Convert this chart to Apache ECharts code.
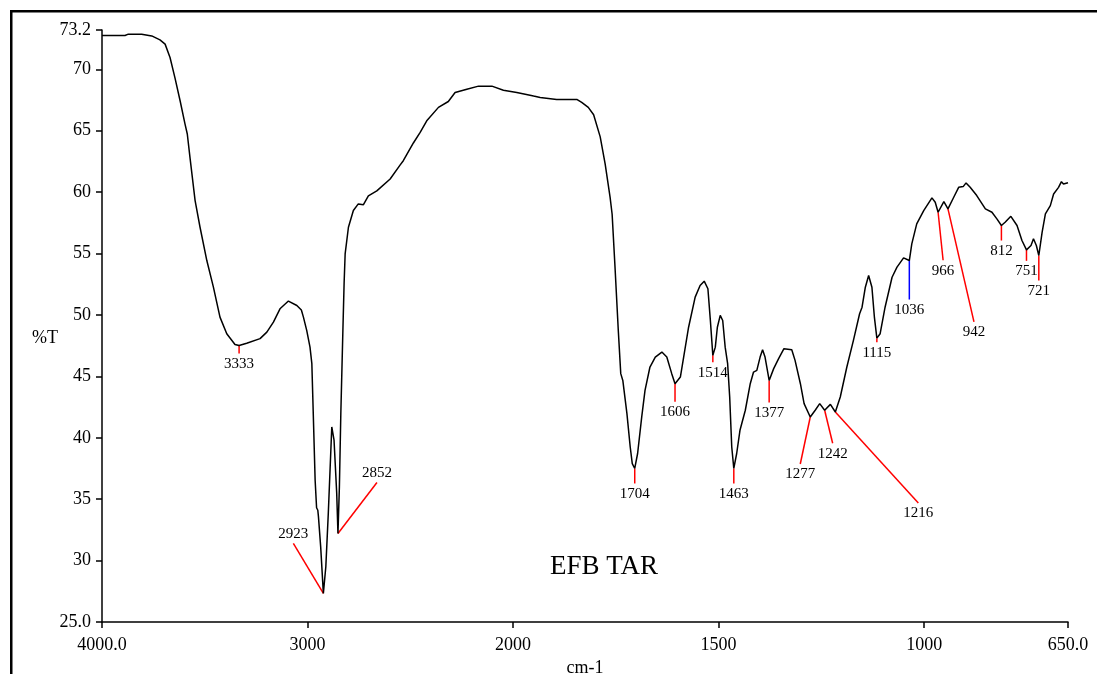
<!DOCTYPE html>
<html>
<head>
    <meta charset="utf-8">
    <title>EFB TAR</title>
    <script src="https://cdn.jsdelivr.net/npm/echarts@6/dist/echarts.min.js"></script>
    <style>
        html, body { margin: 0; padding: 0; background: #fff; }
        #main { width: 1097px; height: 674px; }
    </style>
</head>
<body>
<div id="main"></div>
<script type="text/javascript">

// spectrum (wavenumber cm-1, %T)
var wavenumbers = [4000, 3888, 3872, 3807, 3758, 3718, 3693, 3669, 3645, 3620, 3596, 3585, 3572, 3547, 3523, 3490, 3458, 3426, 3393, 3353, 3333,
    3296, 3231, 3198, 3166, 3134, 3093, 3052, 3030, 3020, 3004, 2996, 2988, 2979, 2972, 2963, 2956, 2950, 2947, 2936, 2923,
    2911, 2899, 2882, 2871, 2858, 2852, 2845, 2838, 2828, 2822, 2817, 2801, 2777, 2753, 2728, 2704, 2663, 2598, 2550, 2534,
    2485, 2452, 2420, 2363, 2315, 2282, 2225, 2168, 2103, 2047, 1991, 1950, 1934, 1894, 1845, 1833, 1817, 1804, 1788, 1776,
    1764, 1759, 1752, 1744, 1738, 1733, 1723, 1715, 1710, 1704, 1697, 1687, 1679, 1667, 1654, 1638, 1626, 1614, 1606, 1593,
    1585, 1573, 1557, 1545, 1535, 1526, 1520, 1514, 1508, 1503, 1496, 1490, 1484, 1478, 1473, 1468, 1463, 1456, 1448, 1435,
    1423, 1415, 1407, 1399, 1393, 1387, 1377, 1366, 1354, 1341, 1322, 1314, 1301, 1292, 1277, 1265, 1254, 1242, 1228, 1216,
    1204, 1188, 1172, 1157, 1151, 1143, 1135, 1127, 1121, 1115, 1107, 1095, 1078, 1066, 1050, 1036, 1030, 1018, 1001, 981,
    973, 966, 952, 942, 928, 916, 905, 898, 888, 872, 851, 835, 823, 812, 803, 789, 774, 762, 751, 740,
    734, 727, 721, 713, 705, 693, 685, 673, 666, 661, 650];
var transmittance = [72.75, 72.75, 72.86, 72.86, 72.72, 72.4, 72.05, 70.96, 69.3, 67.44, 65.54, 64.73, 62.83, 59.31, 57.14, 54.43, 52.26, 49.82, 48.47, 47.6, 47.52,
    47.7, 48.07, 48.6, 49.41, 50.5, 51.13, 50.77, 50.4, 49.82, 48.74, 48.6, 47.38, 46.03, 41.9, 36.54, 34.3, 34.1, 33.6, 31.12, 27.33,
    29.5, 33.84, 40.88, 39.8, 35.46, 32.21, 36.0, 41.97, 48.74, 52.6, 54.97, 57.14, 58.5, 59.04, 58.98, 59.7, 60.1, 61.07, 62.2, 62.56,
    64.0, 64.86, 65.81, 66.9, 67.38, 68.11, 68.38, 68.63, 68.63, 68.3, 68.11, 67.82, 67.71, 67.55, 67.55, 67.3, 66.9, 66.3, 64.5, 62.3,
    59.6, 58.2, 53.9, 48.74, 45.22, 44.67, 41.97, 39.25, 37.9, 37.5, 38.72, 41.7, 43.86, 45.76, 46.57, 46.98, 46.57, 45.22, 44.4, 44.94,
    46.57, 49.0, 51.45, 52.4, 52.75, 52.13, 49.55, 46.71, 47.38, 49.0, 49.96, 49.55, 47.38, 46.03, 43.32, 39.25, 37.5, 38.72, 40.61, 42.24,
    44.4, 45.35, 45.49, 46.57, 47.17, 46.57, 44.67, 45.63, 46.44, 47.25, 47.17, 46.3, 44.4, 42.78, 41.69, 42.24, 42.78, 42.24, 42.72, 42.1,
    43.32, 45.76, 47.93, 50.1, 50.63, 52.26, 53.21, 52.26, 49.82, 48.11, 48.47, 50.63, 53.07, 53.89, 54.65, 54.43, 55.79, 57.41, 58.5, 59.53,
    59.17, 58.36, 59.23, 58.63, 59.58, 60.39, 60.45, 60.75, 60.39, 59.72, 58.63, 58.36, 57.82, 57.28, 57.55, 58.03, 57.28, 56.06, 55.3, 55.65,
    56.2, 55.65, 54.84, 56.73, 58.23, 58.9, 59.85, 60.39, 60.85, 60.66, 60.77];

// picked peaks
var peakWn = [3333, 2923, 2852, 1704, 1606, 1514, 1463, 1377, 1277, 1242, 1216, 1115, 1036, 966, 942, 812, 751, 721];
var peakT = [47.52, 27.33, 32.21, 37.5, 44.4, 46.71, 37.5, 44.67, 41.69, 42.24, 42.1, 48.11, 54.43, 58.36, 58.63, 57.28, 55.3, 54.84];

var xTickWn = [4000, 3000, 2000, 1500, 1000, 650];
var xTickText = ['4000.0', '3000', '2000', '1500', '1000', '650.0'];
var yTicks = [25, 30, 35, 40, 45, 50, 55, 60, 65, 70, 73.2];
var yTickText = ['25.0', '30', '35', '40', '45', '50', '55', '60', '65', '70', '73.2'];

// leader lines: pixel offset of the line end from the peak, label above or below
var leader = [[0, 8], [-30, -50], [39, -51], [0, 15], [0, 18], [0, 7], [0, 15], [0, 22], [-10, 47], [8, 33], [83, 91],
    [0, 4], [0, 39], [5, 48], [26, 113], [0, 15], [0, 11], [0, 25]];
var leaderColor = function (wn) { return wn === 1036 ? '#0000ff' : '#ff0000'; };

// spectrometer scale: 4000-2000 is drawn at half the scale of 2000-650
function toAxis(wn) {
    return wn >= 2000 ? (4000 - wn) / 2 : 1000 + (2000 - wn);
}

var serif = '"Liberation Serif", "Times New Roman", serif';

var lineData = [];
for (var i = 0; i < wavenumbers.length; i++) {
    lineData.push([toAxis(wavenumbers[i]), transmittance[i]]);
}
var peakData = [];
for (var j = 0; j < peakWn.length; j++) {
    peakData.push([toAxis(peakWn[j]), peakT[j], j]);
}
var xTickPos = xTickWn.map(toAxis);

var myChart = echarts.init(document.getElementById('main'));

var option = {
    animation: false,
    backgroundColor: '#fff',
    title: {
        text: 'EFB TAR',
        left: 545,
        top: 548,
        textStyle: { fontFamily: serif, fontSize: 27, fontWeight: 'normal', color: '#000' }
    },
    graphic: [{
        type: 'rect',
        left: 8.75, top: 8.75,
        shape: { width: 1200, height: 800 },
        style: { fill: null, stroke: '#000', lineWidth: 2.5 },
        silent: true
    }, {
        // y axis name sits a bit below the middle
        type: 'text',
        left: 32, top: 329,
        style: { text: '%T', font: '18px ' + serif, fill: '#000' },
        silent: true
    }],
    grid: { left: 102, right: 29, top: 30, bottom: 52, outerBoundsMode: 'none', containLabel: false },
    xAxis: {
        type: 'value',
        min: 0,
        max: 2350,
        name: 'cm-1',
        nameLocation: 'middle',
        nameGap: 36,
        nameTextStyle: { fontFamily: serif, fontSize: 18, color: '#000' },
        axisLine: { lineStyle: { color: '#000', width: 1.5 } },
        axisTick: { length: 6, customValues: xTickPos, lineStyle: { color: '#000', width: 1.5 } },
        axisLabel: {
            customValues: xTickPos,
            margin: 14,
            fontFamily: serif, fontSize: 18, color: '#000',
            formatter: function (v) {
                var k = xTickPos.indexOf(v);
                return k >= 0 ? xTickText[k] : '';
            }
        },
        splitLine: { show: false }
    },
    yAxis: {
        type: 'value',
        min: 25,
        max: 73.2,
        axisLine: { show: true, lineStyle: { color: '#000', width: 1.5 } },
        axisTick: { show: true, length: 6, customValues: yTicks, lineStyle: { color: '#000', width: 1.5 } },
        axisLabel: {
            customValues: yTicks,
            margin: 11,
            fontFamily: serif, fontSize: 18, color: '#000',
            padding: [0, 0, 8, 0],
            formatter: function (v) {
                var k = yTicks.indexOf(v);
                return k >= 0 ? yTickText[k] : '';
            }
        },
        splitLine: { show: false }
    },
    series: [{
        type: 'line',
        data: lineData,
        showSymbol: false,
        smooth: false,
        lineStyle: { color: '#000', width: 1.5 },
        z: 3
    }, {
        type: 'custom',
        data: peakData,
        z: 2,
        renderItem: function (params, api) {
            var p = api.coord([api.value(0), api.value(1)]);
            var k = api.value(2);
            var off = leader[k];
            var ex = p[0] + off[0], ey = p[1] + off[1];
            var above = off[1] < 0;
            return {
                type: 'group',
                children: [{
                    type: 'line',
                    shape: { x1: p[0], y1: p[1], x2: ex, y2: ey },
                    style: { stroke: leaderColor(peakWn[k]), lineWidth: 1.5 }
                }, {
                    type: 'text',
                    style: {
                        text: String(peakWn[k]),
                        x: ex,
                        y: above ? ey - 2 : ey + 3,
                        align: 'center',
                        verticalAlign: above ? 'bottom' : 'top',
                        font: '15px ' + serif,
                        fill: '#000'
                    }
                }]
            };
        }
    }]
};

myChart.setOption(option);
</script>
</body>
</html>
